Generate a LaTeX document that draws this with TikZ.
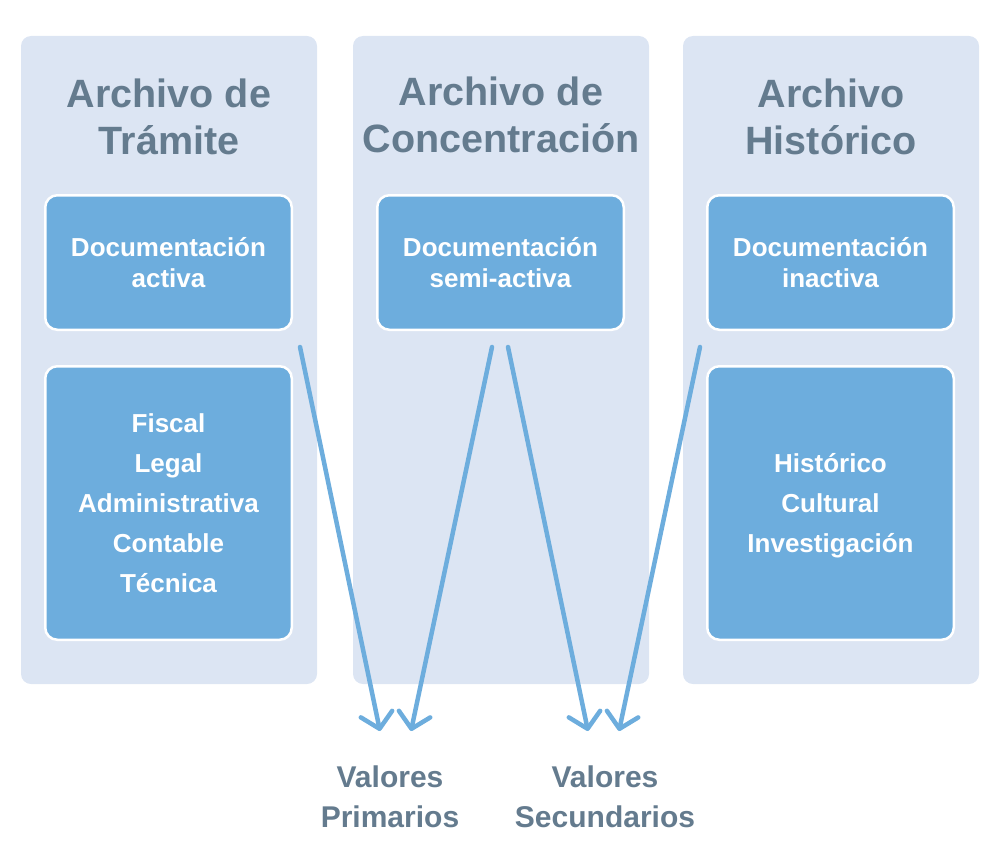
\documentclass[tikz,border=0pt]{standalone}
\usepackage{fontspec}
\setmainfont{Liberation Sans}
\usetikzlibrary{arrows.meta}
\definecolor{colbg}{RGB}{220,229,243}
\definecolor{boxblue}{RGB}{109,173,221}
\definecolor{titlegray}{RGB}{100,123,142}
\begin{document}
\begin{tikzpicture}[x=1pt,y=-1pt,
  colbox/.style={fill=colbg, rounded corners=10pt, minimum width=296pt, minimum height=648pt, inner sep=0pt},
  docbox/.style={fill=boxblue, draw=white, line width=2.5pt, rounded corners=12pt,
    minimum width=246.5pt, minimum height=134.5pt, inner sep=0pt, align=center,
    text=white, font=\bfseries\fontsize{26}{31}\selectfont},
  valbox/.style={docbox, minimum height=273.5pt, text depth=0pt,
    font=\bfseries\fontsize{26}{40}\selectfont},
  title/.style={text=titlegray, align=center, anchor=base, inner sep=0pt,
    font=\bfseries\fontsize{39.5}{47}\selectfont},
  vlabel/.style={text=titlegray, align=center, anchor=base, inner sep=0pt,
    font=\bfseries\fontsize{30}{40}\selectfont},
  flow/.style={draw=boxblue, line width=4.5pt, line cap=round,
    -{Straight Barb[length=15pt,width=32pt,round]}}
]
\useasboundingbox (0,0) rectangle (1000,856);
% columns
\node[colbox] (c1) at (169,360) {};
\node[colbox] (c2) at (501,360) {};
\node[colbox] (c3) at (831,360) {};
% titles (base anchor = baseline of last line)
\node[title] (t1) at (169,154) {Archivo de\\Trámite};
\node[title] (t2) at (501,152) {Archivo de\\Concentración};
\node[title] (t3) at (831,154) {Archivo\\Histórico};
% top boxes
\node[docbox] (d1) at (168.5,262.5) {Documentación\\activa};
\node[docbox] (d2) at (500.5,262.5) {Documentación\\semi-activa};
\node[docbox] (d3) at (830.5,262.5) {Documentación\\inactiva};
% lower boxes
\node[valbox] (v1) at (168.5,503) {Fiscal\\Legal\\Administrativa\\Contable\\Técnica};
\node[valbox] (v3) at (830.5,503) {Histórico\\Cultural\\Investigación};
% value labels
\node[vlabel] (lp) at (390,827) {Valores\\Primarios};
\node[vlabel] (ls) at (605,827) {Valores\\Secundarios};
% arrow end points
\coordinate (s1) at (300,347);
\coordinate (s2) at (492,347);
\coordinate (s3) at (508,347);
\coordinate (s4) at (700,347);
\coordinate (e1) at (380,731);
\coordinate (e2) at (411,731);
\coordinate (e3) at (588,731);
\coordinate (e4) at (619,731);
\draw[flow] (s1) -- (e1);
\draw[flow] (s2) -- (e2);
\draw[flow] (s3) -- (e3);
\draw[flow] (s4) -- (e4);
\end{tikzpicture}
\end{document}
